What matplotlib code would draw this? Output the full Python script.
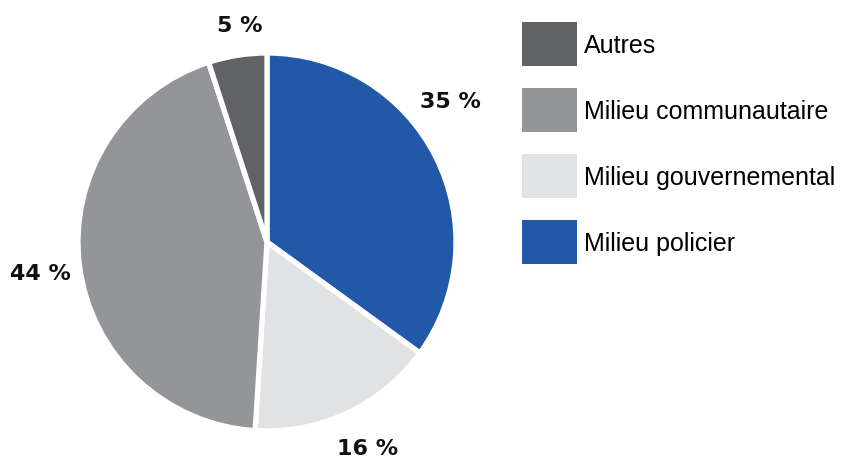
import matplotlib
matplotlib.use("Agg")
import matplotlib.pyplot as plt
import numpy as np
from matplotlib.patches import Patch

categories = ["Milieu policier", "Milieu gouvernemental", "Milieu communautaire", "Autres"]
values = [35, 16, 44, 5]
labels = ["35 %", "16 %", "44 %", "5 %"]
colors = ["#2158a8", "#e1e2e4", "#939598", "#616265"]

W, H = 848, 460
fig = plt.figure(figsize=(W / 100, H / 100), dpi=100)
cx, cy, r = 267, 243, 189
ax = fig.add_axes([(cx - r) / W, (H - cy - r) / H, 2 * r / W, 2 * r / H])

wedges, _ = ax.pie(values, colors=colors, startangle=90, counterclock=False,
                   radius=1.0, wedgeprops=dict(edgecolor="white", linewidth=3.8))
ax.set_xlim(-1, 1)
ax.set_ylim(-1, 1)
ax.set_aspect("equal")
ax.axis("off")

dist = [1.23, 1.205, 1.21, 1.165]
angle_shift = [11, 1, 0, -2]
for w, lab, d, s in zip(wedges, labels, dist, angle_shift):
    ang = np.deg2rad((w.theta1 + w.theta2) / 2 + s)
    ax.text(d * np.cos(ang), d * np.sin(ang) - 0.01, lab, ha="center", va="center",
            fontsize=16, fontweight="bold", family="DejaVu Sans", color="#111111",
            clip_on=False)

fs = 18
fpx = fs * 100 / 72
hh_target = 44 / fpx
handleheight = (hh_target - 0.245) / 0.65
leg_labels = categories[::-1]
phandles = [Patch(facecolor=colors[i], edgecolor="none") for i in range(len(colors) - 1, -1, -1)]
fig.legend(phandles, leg_labels, loc="upper left", bbox_to_anchor=(522 / W, 1 - 23 / H),
           frameon=False, borderpad=0, borderaxespad=0, handlelength=55 / fpx,
           handleheight=handleheight, labelspacing=22 / fpx, handletextpad=0.29,
           prop=dict(family="Liberation Sans", size=fs))

fig.savefig("out.png", dpi=100)
